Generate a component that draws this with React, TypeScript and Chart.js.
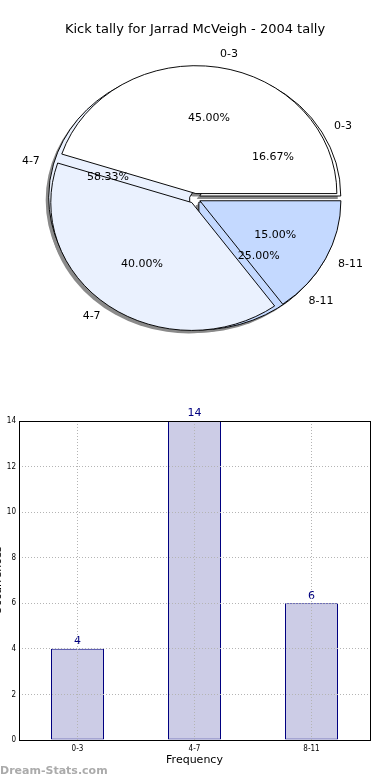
import React, { useEffect, useRef } from 'react';
import { Chart, registerables } from 'chart.js';

Chart.register(...registerables);

const PIE_TITLE = 'Kick tally for Jarrad McVeigh - 2004 tally';
const CATEGORIES = ['0-3', '4-7', '8-11'];
const PIE_A_PCT = [45, 40, 15];
const KICK_COUNTS = [4, 14, 6];
const SLICE_COLORS = ['#ffffff', '#eaf1fe', '#c4d9ff'];
const Y_MIN = 0;
const Y_MAX = 14;
const Y_STEP = 2;
const X_TITLE = 'Frequency';
const Y_TITLE = 'Occurrences';
const WATERMARK = 'Dream-Stats.com';

const FONT = "'DejaVu Sans', sans-serif";

function PieChart() {
  const ref = useRef<HTMLCanvasElement>(null);
  useEffect(() => {
    const R = 141;
    const SY = 0.907;
    const E = 5.5;
    const SH = 3;
    const total = KICK_COUNTS.reduce((s, v) => s + v, 0);
    const pieBPct = KICK_COUNTS.map((v) => (v / total) * 100);
    const rev = (arr: any[]) => arr.slice().reverse();

    const drawLabels = (ctx: CanvasRenderingContext2D, cx: number, cy: number, vals: number[], pcts: number[]) => {
      const sum = vals.reduce((s, v) => s + v, 0);
      let acc = 0;
      vals.forEach((v, i) => {
        const t1 = (acc / sum) * 360;
        acc += v;
        const t2 = (acc / sum) * 360;
        const mid = (((t1 + t2) / 2) * Math.PI) / 180;
        const c = Math.cos(mid);
        const s = Math.sin(mid);
        const x0 = cx + E * c;
        const y0 = cy - E * s * SY;
        ctx.fillStyle = '#000';
        ctx.font = `11px ${FONT}`;
        ctx.textBaseline = 'middle';
        ctx.textAlign = c > 0 ? 'left' : 'right';
        ctx.fillText(CATEGORIES[i], x0 + 1.1 * R * c, y0 - 1.1 * R * SY * s);
        ctx.textAlign = 'center';
        ctx.fillText(pcts[i].toFixed(2) + '%', x0 + 0.6 * R * c, y0 - 0.6 * R * SY * s);
      });
    };

    const plugin = {
      id: 'mplPie',
      beforeDatasetsDraw(chart: any) {
        const ctx: CanvasRenderingContext2D = chart.ctx;
        const a = chart.chartArea;
        const cx = (a.left + a.right) / 2;
        const cy = (a.top + a.bottom) / 2;
        const metas = [chart.getDatasetMeta(1), chart.getDatasetMeta(0)];
        const place = (arc: any) => {
          const h = (arc.startAngle + arc.endAngle) / 2;
          ctx.translate(cx, cy);
          ctx.scale(1, SY);
          ctx.translate(-cx, -cy);
          ctx.translate(Math.cos(h) * E, Math.sin(h) * E);
        };
        metas.forEach((m: any) =>
          m.data.forEach((arc: any) => {
            arc.x = cx;
            arc.y = cy;
            arc.outerRadius = R;
            arc.innerRadius = 0;
          })
        );
        ctx.save();
        ctx.fillStyle = '#8a8a8a';
        metas.forEach((m: any) =>
          m.data.forEach((arc: any) => {
            ctx.save();
            ctx.translate(-SH, SH);
            place(arc);
            ctx.beginPath();
            ctx.moveTo(cx, cy);
            ctx.arc(cx, cy, R, arc.startAngle, arc.endAngle);
            ctx.closePath();
            ctx.fill();
            ctx.restore();
          })
        );
        ctx.restore();
        metas.forEach((m: any) =>
          m.data.forEach((arc: any) => {
            ctx.save();
            place(arc);
            arc.draw(ctx);
            ctx.restore();
          })
        );
        return false;
      },
      afterDraw(chart: any) {
        const ctx: CanvasRenderingContext2D = chart.ctx;
        const a = chart.chartArea;
        const cx = (a.left + a.right) / 2;
        const cy = (a.top + a.bottom) / 2;
        ctx.save();
        ctx.fillStyle = '#000';
        ctx.font = `13px ${FONT}`;
        ctx.textAlign = 'center';
        ctx.textBaseline = 'middle';
        ctx.fillText(PIE_TITLE, 195, 30);
        drawLabels(ctx, cx, cy, PIE_A_PCT, PIE_A_PCT);
        drawLabels(ctx, cx, cy, KICK_COUNTS, pieBPct);
        ctx.restore();
      },
    };

    const chart = new Chart(ref.current as HTMLCanvasElement, {
      type: 'pie',
      data: {
        labels: rev(CATEGORIES),
        datasets: [
          {
            data: rev(PIE_A_PCT),
            backgroundColor: rev(SLICE_COLORS),
            borderColor: '#000',
            borderWidth: 1,
            rotation: 90,
          },
          {
            data: rev(KICK_COUNTS),
            backgroundColor: rev(SLICE_COLORS),
            borderColor: '#000',
            borderWidth: 1,
            rotation: 90,
          },
        ],
      } as any,
      options: {
        animation: false,
        responsive: false,
        events: [],
        rotation: 90,
        layout: { padding: { top: 7, left: 0, right: 0, bottom: 0 } },
        plugins: { legend: { display: false }, tooltip: { enabled: false } },
      } as any,
      plugins: [plugin as any],
    });
    return () => chart.destroy();
  }, []);
  return (
    <canvas
      ref={ref}
      width={390}
      height={390}
      style={{ position: 'absolute', left: 0, top: 0, width: 390, height: 390 }}
    />
  );
}

function BarChart() {
  const ref = useRef<HTMLCanvasElement>(null);
  useEffect(() => {
    const plugin = {
      id: 'mplBar',
      afterDatasetsDraw(chart: any) {
        const ctx: CanvasRenderingContext2D = chart.ctx;
        const meta = chart.getDatasetMeta(0);
        ctx.save();
        ctx.fillStyle = '#000080';
        ctx.font = `11px ${FONT}`;
        ctx.textAlign = 'center';
        ctx.textBaseline = 'bottom';
        meta.data.forEach((bar: any, i: number) => {
          ctx.fillText(String(KICK_COUNTS[i]), bar.x, bar.y - 2);
        });
        ctx.restore();
      },
      afterDraw(chart: any) {
        const ctx: CanvasRenderingContext2D = chart.ctx;
        const a = chart.chartArea;
        ctx.save();
        ctx.strokeStyle = '#000';
        ctx.lineWidth = 1;
        ctx.strokeRect(Math.round(a.left) + 0.5, Math.round(a.top) + 0.5, Math.round(a.right - a.left), Math.round(a.bottom - a.top));
        ctx.fillStyle = '#000';
        ctx.font = `11px ${FONT}`;
        ctx.textAlign = 'center';
        ctx.textBaseline = 'middle';
        ctx.fillText(X_TITLE, (a.left + a.right) / 2, 370);
        ctx.translate(-2, (a.top + a.bottom) / 2);
        ctx.rotate(-Math.PI / 2);
        ctx.fillText(Y_TITLE, 0, 0);
        ctx.restore();
      },
    };

    const tickFont = { size: 8, family: "'DejaVu Sans Condensed', 'DejaVu Sans', sans-serif" };
    const chart = new Chart(ref.current as HTMLCanvasElement, {
      type: 'bar',
      data: {
        labels: CATEGORIES,
        datasets: [
          {
            data: KICK_COUNTS,
            backgroundColor: '#ccccE6',
            borderColor: '#000080',
            borderWidth: 1,
            borderSkipped: false,
            categoryPercentage: 1,
            barPercentage: 53 / 117,
          },
        ],
      } as any,
      options: {
        animation: false,
        responsive: false,
        events: [],
        layout: { padding: { top: 31, right: 20, left: 0, bottom: 0 } },
        plugins: { legend: { display: false }, tooltip: { enabled: false } },
        scales: {
          x: {
            grid: { offset: false, color: '#b4b4b4', drawTicks: false, lineWidth: 1, z: 1, borderDash: [1, 2] },
            border: { display: false, dash: [1, 2] },
            ticks: { font: tickFont, color: '#000', padding: 4 },
            afterFit(s: any) {
              s.height = 40;
            },
          },
          y: {
            min: Y_MIN,
            max: Y_MAX,
            grid: { color: '#b4b4b4', drawTicks: false, lineWidth: 1, z: 1, borderDash: [1, 2] },
            border: { display: false, dash: [1, 2] },
            ticks: { stepSize: Y_STEP, font: tickFont, color: '#000', padding: 3 },
            afterFit(s: any) {
              s.width = 19;
            },
          },
        },
      } as any,
      plugins: [plugin as any],
    });
    return () => chart.destroy();
  }, []);
  return (
    <canvas
      ref={ref}
      width={390}
      height={390}
      style={{ position: 'absolute', left: 0, top: 390, width: 390, height: 390 }}
    />
  );
}

export default function App() {
  return (
    <div style={{ position: 'absolute', left: 0, top: 0, width: 390, height: 780, background: '#fff', overflow: 'hidden' }}>
      <PieChart />
      <BarChart />
      <div
        style={{
          position: 'absolute',
          left: 0,
          top: 763,
          fontFamily: FONT,
          fontWeight: 'bold',
          fontSize: 11,
          lineHeight: '15px',
          color: '#ababab',
          whiteSpace: 'nowrap',
        }}
      >
        {WATERMARK}
      </div>
    </div>
  );
}
